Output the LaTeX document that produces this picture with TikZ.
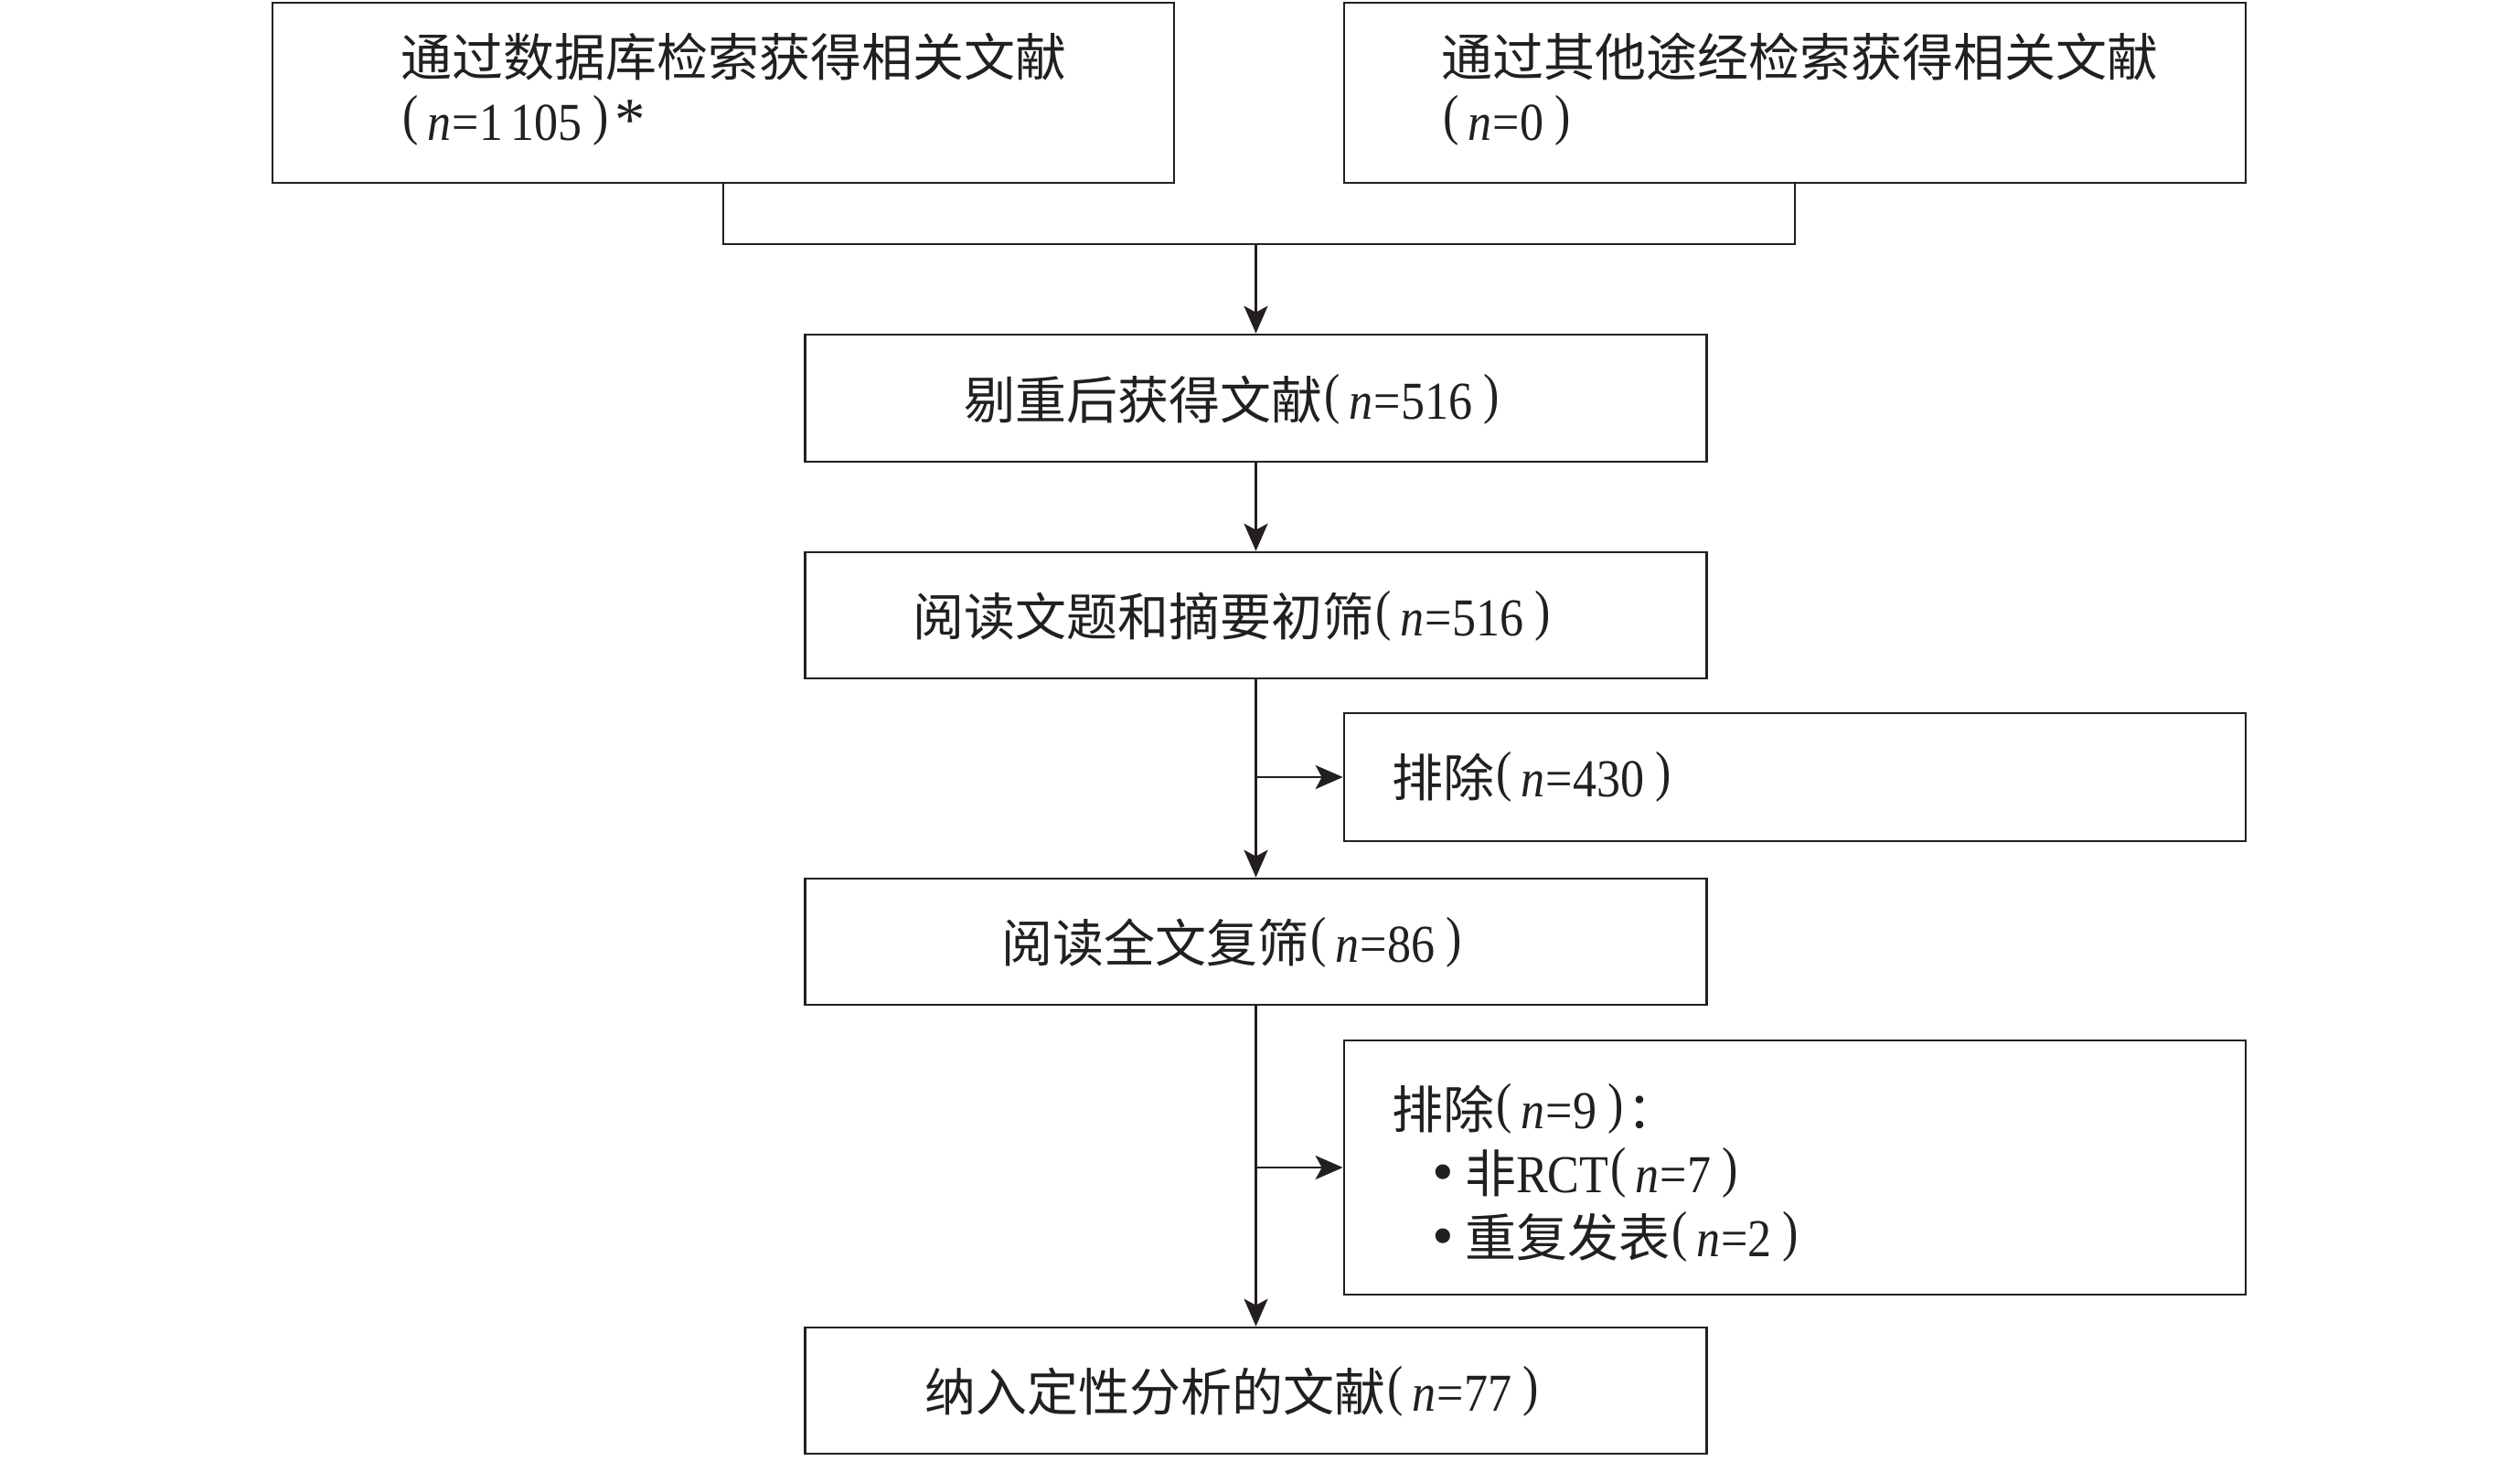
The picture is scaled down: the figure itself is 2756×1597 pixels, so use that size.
\documentclass[tikz,border=0pt]{standalone}
\usepackage{fontspec}
\setmainfont{Noto Sans CJK SC}
\newfontfamily\lat[Scale=0.93]{Liberation Serif}
\usetikzlibrary{arrows.meta}
\definecolor{ink}{HTML}{231F20}
\newcommand\lp{\kern1pt\raisebox{3.5pt}{\scalebox{1}[1.17]{\lat(}}}
\newcommand\rp{\raisebox{3.5pt}{\scalebox{1}[1.17]{\lat)}}}
\newcommand\tall[1]{\scalebox{1}[1.12]{\lat #1}}
\newcommand\nv[1]{\lp\kern5pt\tall{\textit{n}\kern0.5pt=#1}\kern6pt\rp}
\newcommand\bul{\hspace*{22pt}\scalebox{1.3}{\lat •}\kern6pt}
\begin{document}
\begin{tikzpicture}[x=0.5pt,y=-0.5pt,
  box/.style={draw=ink,line width=1.35pt,minimum width=493pt,inner sep=0pt},
  lbl/.style={inner sep=0pt,font=\fontsize{28pt}{35pt}\selectfont,text=ink,align=left},
  conn/.style={draw=ink,line width=1.4pt},
  arr/.style={conn,-{Stealth[length=15pt,width=13pt,inset=3.5pt]}}]
\useasboundingbox (0,0) rectangle (2756,1597);
% boxes
\node[box,minimum height=98.5pt] (A) at (791,101.5) {};
\node[box,minimum height=98.5pt] (B) at (1963,101.5) {};
\node[box,minimum height=69.5pt] (C) at (1373.5,435.5) {};
\node[box,minimum height=69pt] (D) at (1373.5,673) {};
\node[box,minimum height=70pt] (F) at (1963,850) {};
\node[box,minimum height=69pt] (E) at (1373.5,1030) {};
\node[box,minimum height=139pt] (H) at (1963,1277) {};
\node[box,minimum height=69pt] (G) at (1373.5,1521) {};
% labels
\node[lbl,anchor=west] (tA) at (438,98) {通过数据库检索获得相关文献\\\nv{1\,105}\kern3pt{\lat\fontsize{36pt}{35pt}\selectfont *}};
\node[lbl,anchor=west] (tB) at (1576,98) {通过其他途经检索获得相关文献\\\nv{0}};
\node[lbl] (tC) at (1347,437) {剔重后获得文献\nv{516}};
\node[lbl] (tD) at (1347,674) {阅读文题和摘要初筛\nv{516}};
\node[lbl,anchor=west] (tF) at (1522,850) {排除\nv{430}};
\node[lbl] (tE) at (1347,1031) {阅读全文复筛\nv{86}};
\node[lbl,anchor=west] (tH) at (1522,1283) {排除\nv{9}\kern2pt：\\\bul 非\tall{RCT}\nv{7}\\\bul 重复发表\nv{2}};
\node[lbl] (tG) at (1347,1522) {纳入定性分析的文献\nv{77}};
% connectors
\coordinate (J) at (1373.5,267);
\draw[conn] (A.south) -- (A.south |- J) -- (B.south |- J) -- (B.south);
\draw[arr] (J) -- (C.north);
\draw[arr] (C.south) -- (D.north);
\draw[arr] (D.south) -- (E.north);
\draw[arr] (D.south |- F.west) -- (F.west);
\draw[arr] (E.south) -- (G.north);
\draw[arr] (E.south |- H.west) -- (H.west);
\end{tikzpicture}
\end{document}
